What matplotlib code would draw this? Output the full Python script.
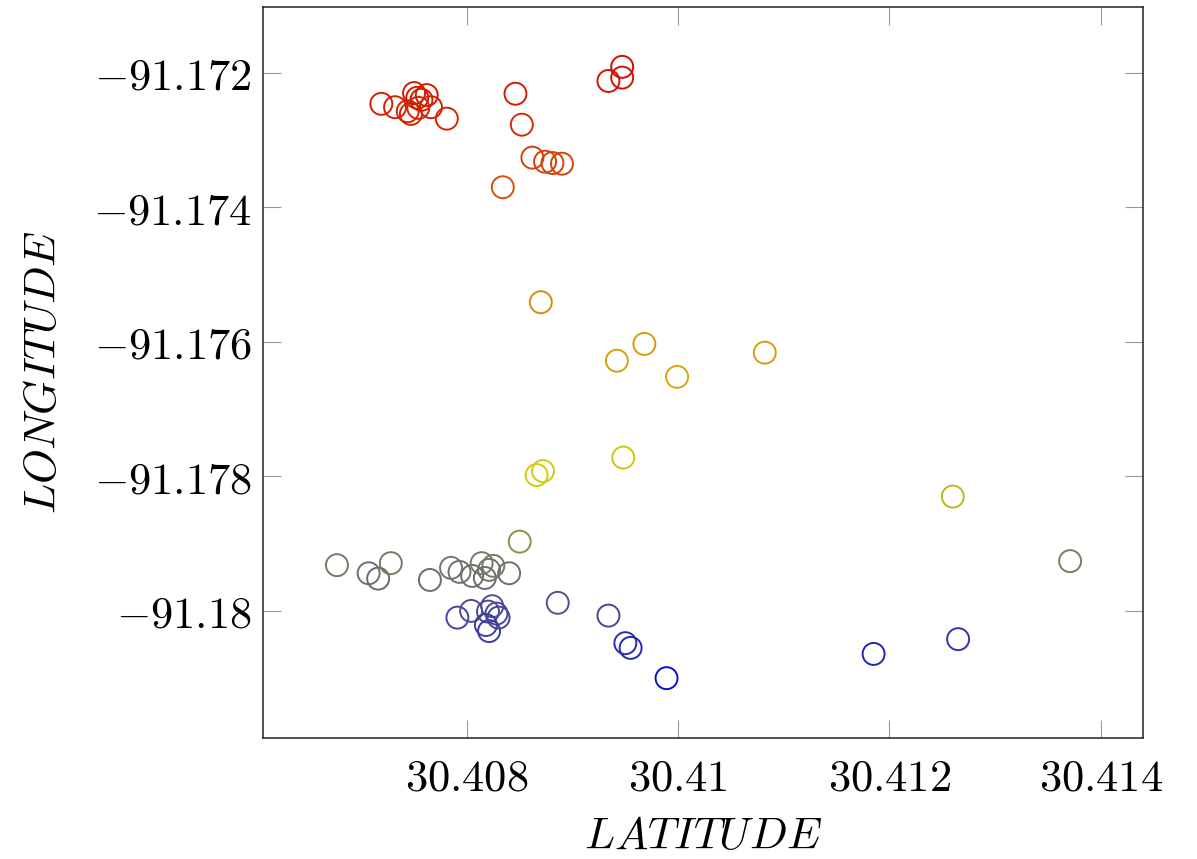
import matplotlib
matplotlib.use("Agg")
import matplotlib.pyplot as plt
import numpy as np
from matplotlib.colors import LinearSegmentedColormap, Normalize

plt.rcParams['mathtext.fontset'] = 'cm'
plt.rcParams['font.family'] = 'serif'
plt.rcParams['font.serif'] = ['DejaVu Serif']

latitude = [
    30.40719, 30.40732, 30.40744, 30.40747, 30.40750, 30.40753, 30.40757, 30.40762,
    30.40766, 30.40754, 30.40781, 30.40846, 30.40852, 30.40862, 30.40874, 30.40881,
    30.40890, 30.40834, 30.40934, 30.40947, 30.40947,
    30.40870, 30.40942, 30.40968, 30.40999, 30.41082, 30.40948, 30.40872, 30.40866,
    30.41260, 30.41371, 30.41265, 30.41185, 30.40934, 30.40950, 30.40955, 30.40989,
    30.40886, 30.40850,
    30.40677, 30.40707, 30.40716, 30.40728, 30.40765, 30.40785, 30.40793, 30.40805,
    30.40814, 30.40817, 30.40821, 30.40825, 30.40840,
    30.40791, 30.40804, 30.40820, 30.40824, 30.40828, 30.40818, 30.40821, 30.40830,
]
longitude = [
    -91.17246, -91.17251, -91.17257, -91.17261, -91.17230, -91.17237, -91.17240, -91.17233,
    -91.17251, -91.17252, -91.17268, -91.17231, -91.17277, -91.17326, -91.17332, -91.17334,
    -91.17335, -91.17370, -91.17212, -91.17207, -91.17191,
    -91.17541, -91.17628, -91.17603, -91.17652, -91.17616, -91.17772, -91.17792, -91.17798,
    -91.17830, -91.17926, -91.18042, -91.18064, -91.18007, -91.18048, -91.18055, -91.18100,
    -91.17988, -91.17897,
    -91.17932, -91.17944, -91.17952, -91.17929, -91.17954, -91.17936, -91.17942, -91.17948,
    -91.17929, -91.17951, -91.17939, -91.17933, -91.17944,
    -91.18010, -91.18000, -91.18001, -91.17993, -91.18004, -91.18021, -91.18030, -91.18010,
]

x_ticks = [30.408, 30.410, 30.412, 30.414]
x_tick_labels = ['30.408', '30.41', '30.412', '30.414']
y_ticks = [-91.180, -91.178, -91.176, -91.174, -91.172]
y_tick_labels = ['-91.18', '-91.178', '-91.176', '-91.174', '-91.172']

cmap = LinearSegmentedColormap.from_list(
    'pgfhot', [(0.05, 0.05, 0.82), (0.82, 0.80, 0.05), (0.85, 0.50, 0.05), (0.82, 0.05, 0.0)])
norm = Normalize(vmin=min(longitude), vmax=max(longitude))
colors = cmap(norm(np.array(longitude)))

fig = plt.figure(figsize=(11.97, 8.59), dpi=100)
ax = fig.add_axes([263/1197, 1 - 738/859, (1143-263)/1197, (738-7)/859])

ax.scatter(latitude, longitude, s=250, facecolors='none', edgecolors=colors,
           linewidths=1.4, zorder=3)

ax.set_xlim(30.40607, 30.41440)
ax.set_ylim(-91.18189, -91.17102)

ax.set_xticks(x_ticks)
ax.set_xticklabels(['$' + t + '$' for t in x_tick_labels])
ax.set_yticks(y_ticks)
ax.set_yticklabels(['$' + t + '$' for t in y_tick_labels])

ax.tick_params(axis='both', which='major', direction='in', length=13, width=0.8,
               color='#999999', labelsize=32, top=True, right=True)
ax.tick_params(axis='x', pad=13)
ax.tick_params(axis='y', pad=8)

for sp in ax.spines.values():
    sp.set_linewidth(1.1)
    sp.set_color('#222222')

ax.set_xlabel(r'$LATITUDE$', fontsize=32, labelpad=11)
ax.set_ylabel(r'$LONGITUDE$', fontsize=32, labelpad=20)

fig.savefig('out.png', dpi=100)
